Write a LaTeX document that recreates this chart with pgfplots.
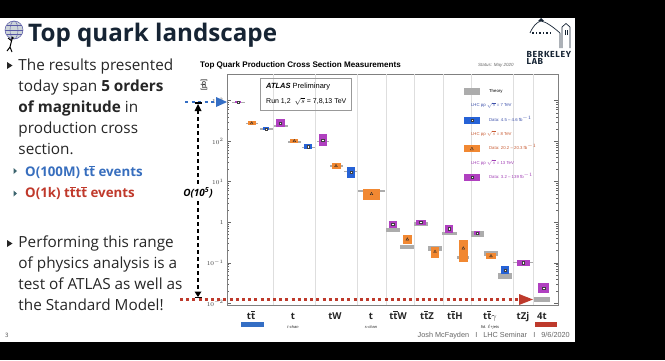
\documentclass[border=0pt]{standalone}
\usepackage{fontspec}
\setmainfont{Open Sans}
\newfontfamily\helv{Liberation Sans}
\newfontfamily\fira{Fira Sans}
\usepackage{pgfplots}
\usepackage{pgfplotstable}
\pgfplotsset{compat=1.18}
\definecolor{cP}{RGB}{176,64,192}
\definecolor{cO}{RGB}{241,136,50}
\definecolor{cB}{RGB}{38,98,214}
\definecolor{cT}{RGB}{172,172,172}
\definecolor{navy}{RGB}{22,36,52}
\definecolor{annred}{RGB}{190,58,44}
\definecolor{annblue}{RGB}{52,110,196}
\definecolor{subblue}{RGB}{55,110,190}
\definecolor{subred}{RGB}{192,57,43}
\definecolor{bul}{RGB}{60,100,110}
\definecolor{t7}{RGB}{60,80,170}
\definecolor{t8}{RGB}{200,90,50}
\definecolor{t13}{RGB}{160,60,180}

\pgfplotstableread{
x y
238.3 913
280 277
322.7 107
392.8 0.903
420.7 0.995
449 0.692
477.3 0.532
523.3 0.100
543.7 0.0233
}\thirteen
\pgfplotstableread{
x y
251.7 277
294.3 101
336 24.4
371.5 4.97
407.3 0.378
435 0.187
463.3 0.227
491 0.146
}\eight
\pgfplotstableread{
x y
266 200
308.3 73.1
351 17.4
505 0.0661
}\seven

\newcommand{\BX}[5]{\addplot[fill=#5, draw=none, forget plot] coordinates {(#1,#3) (#2,#3) (#2,#4) (#1,#4)} --cycle;}
\newcommand{\ttb}{t$\overline{\mbox{t}}$}
\newcommand{\sublab}[1]{{\helv\fontsize{4}{4}\selectfont\mdseries\itshape #1}}

\begin{document}
\begin{tikzpicture}
\begin{scope}[x=1pt,y=1pt]
\useasboundingbox (0,0) rectangle (665,360);
\fill[black] (0,0) rectangle (665,360);
\fill[white] (0,18) rectangle (575,342);

% slide title and logo
\fill[cyan!15!gray!40] (14,330) circle (9);
\draw[gray!70!blue, line width=0.5pt] (14,330) circle (9);
\draw[gray!70!blue, line width=0.4pt] (14,330) ellipse (4 and 9);
\draw[gray!70!blue, line width=0.4pt] (5,330) -- (23,330);
\draw[gray!70!blue, line width=0.4pt] (6.5,334.5) -- (21.5,334.5) (6.5,325.5) -- (21.5,325.5);
\draw[black, line width=1pt] (12,321) -- (10,313) (10,313) -- (7,309) (10,313) -- (12,308) (12,319) -- (8,322);
\fill[black] (12.5,322) circle (1.4);
\node[anchor=base west, inner sep=0, text=navy] at (28,318.3) {\fontsize{24.2}{24}\selectfont\bfseries Top quark landscape};

% Berkeley lab logo
\draw[navy, line width=0.7pt] (530,327) .. controls (533,334) and (537,338) .. (541,339) .. controls (546,338) and (552,334) .. (560,327) -- (560,312);
\fill[navy] (538,339) -- (541,342) -- (544,339) -- cycle;
\foreach \xx in {532,535.5,539,542.5,546,549.5} {\fill[navy] (\xx,326.3) rectangle (\xx+1.8,328.3);}
\draw[navy, line width=0.7pt] (562,312) -- (562,333) -- (566,336.5) -- (570,333) -- (570,312);
\draw[navy, line width=0.5pt] (565,325) -- (565,330) (567,325) -- (567,330);
\node[anchor=base west, inner sep=0, text=navy, text depth=0pt] at (526.5,303) {\fira\fontsize{8.8}{8}\selectfont\bfseries\addfontfeatures{LetterSpace=7}BERKELEY};
\node[anchor=base west, inner sep=0, text=navy, text depth=0pt] at (526.5,295.5) {\fira\fontsize{8.8}{8}\selectfont\bfseries\addfontfeatures{LetterSpace=7}LAB};

% left text
\fill[black!85] (7,298) -- (12.5,294.5) -- (7,291) -- cycle;
\node[anchor=base west, inner sep=0, text=black!85] at (18.3,289.5) {\fontsize{15.3}{18}\selectfont The results presented};
\node[anchor=base west, inner sep=0, text=black!85] at (18.3,268.5) {\fontsize{15.3}{18}\selectfont today span \textbf{5 orders}};
\node[anchor=base west, inner sep=0, text=black!85] at (18.3,247.5) {\fontsize{15.3}{18}\selectfont \textbf{of magnitude} in};
\node[anchor=base west, inner sep=0, text=black!85] at (18.3,226.5) {\fontsize{15.3}{18}\selectfont production cross};
\node[anchor=base west, inner sep=0, text=black!85] at (18.3,205.5) {\fontsize{15.3}{18}\selectfont section.};
\fill[bul] (13.5,192) -- (17,189) -- (13.5,186) -- cycle;
\fill[bul] (13.5,169.5) -- (17,166.5) -- (13.5,163.5) -- cycle;
\node[anchor=base west, inner sep=0, text=subblue] at (25,184) {\fontsize{13.3}{15}\selectfont\bfseries O(100M) \ttb{} events};
\node[anchor=base west, inner sep=0, text=subred] at (25,162.3) {\fontsize{13.3}{15}\selectfont\bfseries O(1k) \ttb\ttb{} events};
\fill[black!85] (7,120) -- (12.5,116.5) -- (7,113) -- cycle;
\node[anchor=base west, inner sep=0, text=black!85] at (18.3,113) {\fontsize{15.3}{18}\selectfont Performing this range};
\node[anchor=base west, inner sep=0, text=black!85] at (18.3,92) {\fontsize{15.3}{18}\selectfont of physics analysis is a};
\node[anchor=base west, inner sep=0, text=black!85] at (18.3,70.5) {\fontsize{15.3}{18}\selectfont test of ATLAS as well as};
\node[anchor=base west, inner sep=0, text=black!85] at (18.3,49.5) {\fontsize{15.3}{18}\selectfont the Standard Model!};
\node[anchor=base west, inner sep=0, text=black!70] at (5,23) {\fontsize{6}{6}\selectfont 3};
\node[anchor=base east, inner sep=0, text=black!60] at (570,23) {\helv\fontsize{7.3}{8}\selectfont Josh McFayden \ \ I \ \ LHC Seminar \ \ I \ \ 9/6/2020};

% chart titles
\node[anchor=base west, inner sep=0] at (200,292.5) {\helv\fontsize{8.1}{9}\selectfont\bfseries Top Quark Production Cross Section Measurements};
\node[anchor=base west, inner sep=0, text=black!60] at (478,293.5) {\helv\fontsize{4.5}{5}\selectfont\itshape Status: May 2020};
\node[rotate=90, inner sep=0] at (204,275) {\helv\fontsize{7}{8}\selectfont [pb]};
\end{scope}

\begin{axis}[
  at={(227pt,55pt)}, anchor=south west,
  width=331pt, height=231pt, scale only axis,
  xmin=227, xmax=558,
  ymode=log, ymin=0.00903, ymax=4560,
  axis line style={black!50, line width=0.6pt},
  xtick={251,293,335,371,398,427,455,490,523,542},
  xticklabels={{\ttb},{\begin{tabular}[t]{@{}c@{}}t\\[-1.5pt]\sublab{t-chan}\end{tabular}},{tW},{\begin{tabular}[t]{@{}c@{}}t\\[-1.5pt]\sublab{s-chan}\end{tabular}},{\ttb W},{\ttb Z},{\ttb H},{\begin{tabular}[t]{@{}c@{}}\ttb$\gamma$\\[-1.5pt]\sublab{fid. $\ell$+jets}\end{tabular}},{tZj},{4t}},
  xtick style={draw=none},
  xticklabel style={anchor=base, yshift=-14pt, font=\bfseries\fontsize{9.5}{11}\selectfont, text=black!85, inner sep=0pt},
  extra x ticks={273,315,357,386,414,443,471,513,533},
  extra x tick labels={},
  extra x tick style={grid=major, major grid style={black!13, line width=0.6pt}},
  ytick={0.01,0.1,1,10,100,1000},
  yticklabels={$10^{-2}$,$10^{-1}$,$1$,$10^{1}$,$10^{2}$,$10^{3}$},
  yticklabel style={font=\fontsize{6}{6}\selectfont, text=black!75},
  ytick style={black!60, line width=0.4pt},
  major tick length=4pt, minor tick length=2pt,
  legend style={at={(rel axis cs:0.716,0.94)}, anchor=north west, draw=none, fill=none, inner sep=0pt,
    font=\helv\fontsize{4.3}{5}\selectfont, row sep=8.5pt,
    nodes={inner sep=0.5pt, text height=3.3pt, text depth=1pt},
    /tikz/every odd column/.append style={column sep=9pt}},
  legend cell align=left,
]
\addlegendimage{legend image code/.code={\fill[cT] (0pt,-3pt) rectangle (15pt,3pt);}}
\addlegendentry{Theory}
\addlegendimage{empty legend}
\addlegendentry[text=t7]{\hspace*{-18pt}LHC pp $\sqrt{s}$ = 7 TeV}
\addlegendimage{legend image code/.code={\fill[cB] (0pt,-3pt) rectangle (15pt,3pt); \filldraw[fill=white, draw=black!75, line width=0.3pt] (6.3pt,-1.2pt) rectangle (8.7pt,1.2pt);}}
\addlegendentry[text=t7]{Data: 4.5 – 4.6 fb$^{-1}$}
\addlegendimage{empty legend}
\addlegendentry[text=t8]{\hspace*{-18pt}LHC pp $\sqrt{s}$ = 8 TeV}
\addlegendimage{legend image code/.code={\fill[cO] (0pt,-3pt) rectangle (15pt,3pt); \filldraw[fill=cO, draw=black!85, line width=0.3pt] (6pt,-1.3pt) -- (9pt,-1.3pt) -- (7.5pt,1.5pt) -- cycle;}}
\addlegendentry[text=t8]{Data: 20.2 – 20.3 fb$^{-1}$}
\addlegendimage{empty legend}
\addlegendentry[text=t13]{\hspace*{-18pt}LHC pp $\sqrt{s}$ = 13 TeV}
\addlegendimage{legend image code/.code={\fill[cP] (0pt,-3pt) rectangle (15pt,3pt); \filldraw[fill=white, draw=black!75, line width=0.3pt] (6.3pt,-1.2pt) rectangle (8.7pt,1.2pt);}}
\addlegendentry[text=t13]{Data: 3.2 – 139 fb$^{-1}$}

% theory bands
\BX{232}{245}{878}{950}{cT}
\BX{245.5}{258}{266}{288}{cT}
\BX{259.5}{272.5}{192}{208}{cT}
\BX{274}{288}{228}{246}{cT}
\BX{288}{301}{91}{100}{cT}
\BX{302}{315}{66.5}{73.3}{cT}
\BX{316.5}{329}{93}{104}{cT}
\BX{330}{343}{23.3}{25.6}{cT}
\BX{343.5}{357}{17.1}{18.7}{cT}
\BX{358}{385}{5.7}{6.3}{cT}
\BX{386}{400}{0.563}{0.706}{cT}
\BX{400}{414}{0.214}{0.274}{cT}
\BX{414.3}{427.7}{0.805}{1.01}{cT}
\BX{428.3}{441.7}{0.198}{0.258}{cT}
\BX{442.3}{456.7}{0.483}{0.573}{cT}
\BX{456.7}{469.3}{0.123}{0.146}{cT}
\BX{470.7}{484}{0.439}{0.617}{cT}
\BX{484.3}{497.7}{0.146}{0.1945}{cT}
\BX{498.3}{512.3}{0.0396}{0.0566}{cT}
\BX{513}{533}{0.0984}{0.107}{cT}
\BX{534}{550}{0.01052}{0.01445}{cT}
% 13 TeV data
\BX{235.3}{241.3}{865}{965}{cP}
\BX{275.5}{284.5}{221}{348}{cP}
\BX{318.7}{326.7}{76}{151}{cP}
\BX{389}{396.7}{0.731}{1.089}{cP}
\BX{415.7}{425.7}{0.853}{1.132}{cP}
\BX{445}{453.3}{0.551}{0.853}{cP}
\BX{474.3}{480.3}{0.475}{0.596}{cP}
\BX{516.7}{530}{0.0843}{0.1167}{cP}
\BX{538.3}{549}{0.01756}{0.0310}{cP}
% 8 TeV data
\BX{247.7}{255.7}{247}{310}{cO}
\BX{290.3}{298.3}{90}{113}{cO}
\BX{331.5}{341}{20.6}{29.0}{cO}
\BX{363}{380}{3.53}{6.61}{cO}
\BX{402.7}{412}{0.290}{0.483}{cO}
\BX{431}{439.3}{0.1285}{0.248}{cO}
\BX{459}{467.7}{0.1023}{0.363}{cO}
\BX{486}{496}{0.1233}{0.1706}{cO}
% 7 TeV data
\BX{263}{269}{184}{218}{cB}
\BX{304.3}{312.3}{63.4}{84.3}{cB}
\BX{347}{355}{12.6}{23.5}{cB}
\BX{500.7}{509.3}{0.0526}{0.0830}{cB}

\addplot[only marks, forget plot, mark=square*, mark size=1.2pt, mark options={fill=white, draw=black!75, line width=0.35pt}] table {\thirteen};
\addplot[only marks, forget plot, mark=triangle*, mark size=1.6pt, mark options={fill=cO, draw=black!85, line width=0.35pt}] table {\eight};
\addplot[only marks, forget plot, mark=square*, mark size=1.2pt, mark options={fill=white, draw=black!75, line width=0.35pt}] table {\seven};
\end{axis}

\begin{scope}[x=1pt,y=1pt]
% ATLAS box
\draw[black!40, line width=0.5pt] (260,281.7) rectangle (351.7,250);
\node[anchor=base west, inner sep=0] at (266,272) {\helv\fontsize{7.5}{8}\selectfont{\bfseries\itshape ATLAS}\ Preliminary};
\node[anchor=base west, inner sep=0] at (266,256.5) {\helv\fontsize{7}{8}\selectfont Run 1,2 \ $\sqrt{s}$ = 7,8,13 TeV};

% annotations
\draw[annblue, line width=2.5pt, dash pattern=on 3pt off 3.5pt] (185,258) -- (217,258);
\fill[annblue] (216,263) -- (227,258) -- (216,253) -- cycle;
\draw[black, line width=1.6pt, dash pattern=on 4pt off 3pt] (198,250) -- (198,68);
\fill[black] (194.5,249) -- (201.5,249) -- (198,256) -- cycle;
\draw[black, line width=1.2pt] (194.5,257) -- (201.5,257);
\fill[black] (194.5,68.5) -- (201.5,68.5) -- (198,63) -- cycle;
\draw[black, line width=1.2pt] (194.5,62.3) -- (201.5,62.3);
\node[fill=white, inner sep=0.8pt] at (198,167) {\fontsize{10}{12}\selectfont\bfseries\itshape O(10\textsuperscript{5})};
\draw[annred, line width=3pt, dash pattern=on 3pt off 3.2pt] (180,60.5) -- (519,60.5);
\fill[annred] (519,66) -- (533,60.5) -- (519,55) -- cycle;
\fill[annblue] (241,33) rectangle (264,38);
\fill[annred] (535,33) rectangle (557,38);
\end{scope}
\end{tikzpicture}
\end{document}
